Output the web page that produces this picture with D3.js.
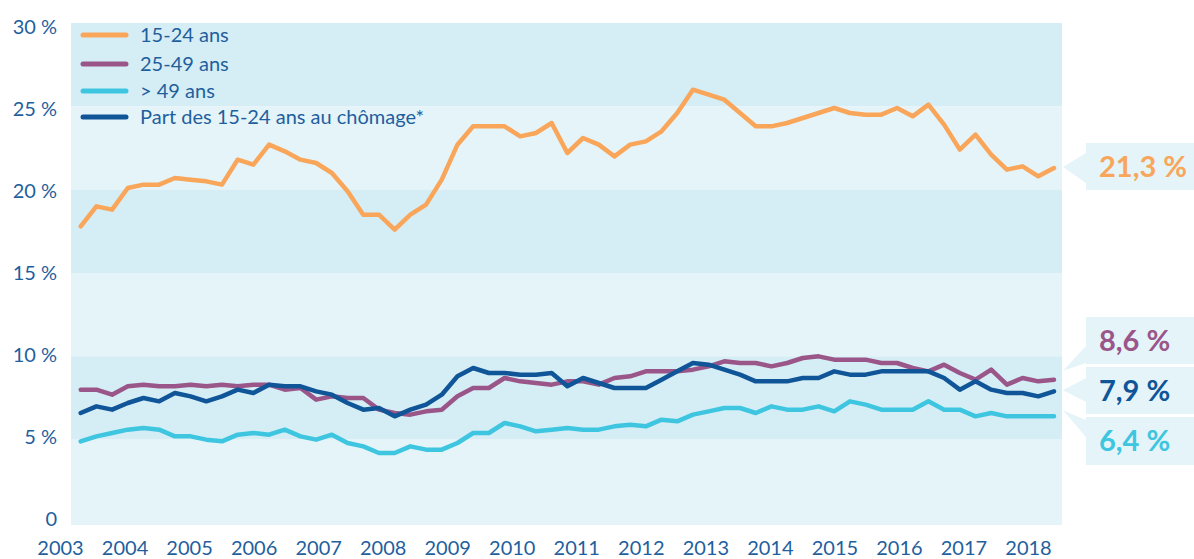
<!DOCTYPE html>
<html>
<head>
<meta charset="utf-8">
<script src="https://cdn.jsdelivr.net/npm/d3@7"></script>
<style>
  body { margin: 0; background: #fff; }
  text { font-family: Lato, "Open Sans", sans-serif; }
</style>
</head>
<body>
<svg id="chart"></svg>
<script>
// Quarterly values, 2003 Q1 -> 2018 Q3
const jeunes = [17.8, 19.0, 18.8, 20.1, 20.3, 20.3, 20.7, 20.6, 20.5, 20.3,
  21.8, 21.5, 22.7, 22.3, 21.8, 21.6, 21.0, 19.9, 18.5, 18.5,
  17.6, 18.5, 19.1, 20.6, 22.7, 23.8, 23.8, 23.8, 23.2, 23.4,
  24.0, 22.2, 23.1, 22.7, 22.0, 22.7, 22.9, 23.5, 24.6, 26.0,
  25.7, 25.4, 24.6, 23.8, 23.8, 24.0, 24.3, 24.6, 24.9, 24.6,
  24.5, 24.5, 24.9, 24.4, 25.1, 23.9, 22.4, 23.3, 22.1, 21.2,
  21.4, 20.8, 21.3];
const adultes = [8.0, 8.0, 7.7, 8.2, 8.3, 8.2, 8.2, 8.3, 8.2, 8.3,
  8.2, 8.3, 8.3, 8.0, 8.1, 7.4, 7.6, 7.5, 7.5, 6.8,
  6.6, 6.5, 6.7, 6.8, 7.6, 8.1, 8.1, 8.7, 8.5, 8.4,
  8.3, 8.5, 8.5, 8.3, 8.7, 8.8, 9.1, 9.1, 9.1, 9.2,
  9.4, 9.7, 9.6, 9.6, 9.4, 9.6, 9.9, 10.0, 9.8, 9.8,
  9.8, 9.6, 9.6, 9.3, 9.1, 9.5, 9.0, 8.6, 9.2, 8.3,
  8.7, 8.5, 8.6];
const seniors = [4.9, 5.2, 5.4, 5.6, 5.7, 5.6, 5.2, 5.2, 5.0, 4.9,
  5.3, 5.4, 5.3, 5.6, 5.2, 5.0, 5.3, 4.8, 4.6, 4.2,
  4.2, 4.6, 4.4, 4.4, 4.8, 5.4, 5.4, 6.0, 5.8, 5.5,
  5.6, 5.7, 5.6, 5.6, 5.8, 5.9, 5.8, 6.2, 6.1, 6.5,
  6.7, 6.9, 6.9, 6.6, 7.0, 6.8, 6.8, 7.0, 6.7, 7.3,
  7.1, 6.8, 6.8, 6.8, 7.3, 6.8, 6.8, 6.4, 6.6, 6.4,
  6.4, 6.4, 6.4];
const partJeunes = [6.6, 7.0, 6.8, 7.2, 7.5, 7.3, 7.8, 7.6, 7.3, 7.6,
  8.0, 7.8, 8.3, 8.2, 8.2, 7.9, 7.7, 7.2, 6.8, 6.9,
  6.4, 6.8, 7.1, 7.7, 8.8, 9.3, 9.0, 9.0, 8.9, 8.9,
  9.0, 8.2, 8.7, 8.4, 8.1, 8.1, 8.1, 8.6, 9.1, 9.6,
  9.5, 9.2, 8.9, 8.5, 8.5, 8.5, 8.7, 8.7, 9.1, 8.9,
  8.9, 9.1, 9.1, 9.1, 9.1, 8.7, 8.0, 8.5, 8.0, 7.8,
  7.8, 7.6, 7.9];

const seriesNames = ['15-24 ans', '25-49 ans', '> 49 ans', 'Part des 15-24 ans au chômage*'];
const seriesColors = ['#f9a55a', '#9a5589', '#3ec5df', '#0f5598'];
const seriesValues = [jeunes, adultes, seniors, partJeunes];
const endLabels = ['21,3 %', '8,6 %', '6,4 %', '7,9 %'];

const years = d3.range(2003, 2019);
const yTicks = [0, 5, 10, 15, 20, 25, 30];

const width = 1194;
const height = 559;
const textColor = '#1f5f9e';

const svg = d3.select('#chart')
  .attr('width', width)
  .attr('height', height);

// scales
const xScale = d3.scaleLinear()
  .domain([0, jeunes.length - 1])
  .range([80.7, 1054]);

const yearScale = d3.scaleLinear()
  .domain([2003, 2018])
  .range([60, 1028]);

const yScale = d3.scaleLinear()
  .domain([0, 30])
  .range([523, 23]);

// tick labels sit on a slightly tighter grid than the bands
const yLabelScale = d3.scaleLinear()
  .domain([0, 30])
  .range([518, 26]);

const plotLeft = 71;
const plotRight = 1062;

// alternating background bands
const bands = d3.pairs(yTicks).reverse();
svg.append('g')
  .selectAll('rect')
  .data(bands)
  .join('rect')
  .attr('x', plotLeft)
  .attr('width', plotRight - plotLeft)
  .attr('y', (d) => yScale(d[1]))
  .attr('height', (d) => yScale(d[0]) - yScale(d[1]) + (d[0] === 0 ? 2 : 0))
  .attr('fill', (d, i) => (i % 2 === 0 ? '#d5eef5' : '#e4f4f9'));

// y axis labels
const yAxis = d3.axisLeft(yLabelScale)
  .tickValues(yTicks)
  .tickSize(0)
  .tickPadding(0)
  .tickFormat((d) => (d === 0 ? '0' : `${d} %`));

const yAxisG = svg.append('g')
  .attr('transform', 'translate(57,0)')
  .call(yAxis);
yAxisG.select('.domain').remove();
yAxisG.selectAll('text')
  .attr('fill', textColor)
  .attr('font-size', 20)
  .attr('dy', '0.35em');

// x axis labels
const xAxis = d3.axisBottom(yearScale)
  .tickValues(years)
  .tickSize(0)
  .tickPadding(0)
  .tickFormat(d3.format('d'));

const xAxisG = svg.append('g')
  .attr('transform', 'translate(0,541)')
  .call(xAxis);
xAxisG.select('.domain').remove();
xAxisG.selectAll('text')
  .attr('fill', textColor)
  .attr('font-size', 20)
  .attr('dy', '0.72em');

// lines
const line = d3.line()
  .x((d, i) => xScale(i))
  .y((d) => yScale(d));

svg.append('g')
  .selectAll('path')
  .data(seriesValues)
  .join('path')
  .attr('d', line)
  .attr('fill', 'none')
  .attr('stroke', (d, i) => seriesColors[i])
  .attr('stroke-width', 4.5)
  .attr('stroke-linejoin', 'round')
  .attr('stroke-linecap', 'round');

// legend
const legend = svg.append('g');
const legendY = [35, 64, 91, 117];
seriesNames.forEach((name, i) => {
  legend.append('line')
    .attr('x1', 83)
    .attr('x2', 126)
    .attr('y1', legendY[i])
    .attr('y2', legendY[i])
    .attr('stroke', seriesColors[i])
    .attr('stroke-width', 5)
    .attr('stroke-linecap', 'round');
  legend.append('text')
    .attr('x', 140)
    .attr('y', legendY[i])
    .attr('dy', '0.35em')
    .attr('fill', textColor)
    .attr('font-size', 20)
    .text(name);
});

// end-value callouts
const boxX = 1086;
const tipX = 1063;
const callouts = [
  { series: 0, top: 143, h: 47, tipDy: -1, base: [153, 183] },
  { series: 1, top: 317, h: 47, tipDy: -9, base: [346, 363] },
  { series: 3, top: 367, h: 47, tipDy: -1, base: [378, 402] },
  { series: 2, top: 417, h: 48, tipDy: -6, base: [420, 437] },
];
const boxFill = '#e4f4f9';
const calloutG = svg.append('g');
callouts.forEach((c) => {
  const vals = seriesValues[c.series];
  const tipY = yScale(vals[vals.length - 1]) + c.tipDy;
  calloutG.append('path')
    .attr('d', `M${boxX},${c.base[0]}L${tipX},${tipY}L${boxX},${c.base[1]}Z`)
    .attr('fill', boxFill);
  calloutG.append('rect')
    .attr('x', boxX)
    .attr('y', c.top)
    .attr('width', width - boxX)
    .attr('height', c.h)
    .attr('fill', boxFill);
  calloutG.append('text')
    .attr('x', 1099)
    .attr('y', c.top + c.h / 2)
    .attr('dy', '0.36em')
    .attr('fill', seriesColors[c.series])
    .attr('font-size', 29)
    .attr('font-weight', 'bold')
    .text(endLabels[c.series]);
});
</script>
</body>
</html>
